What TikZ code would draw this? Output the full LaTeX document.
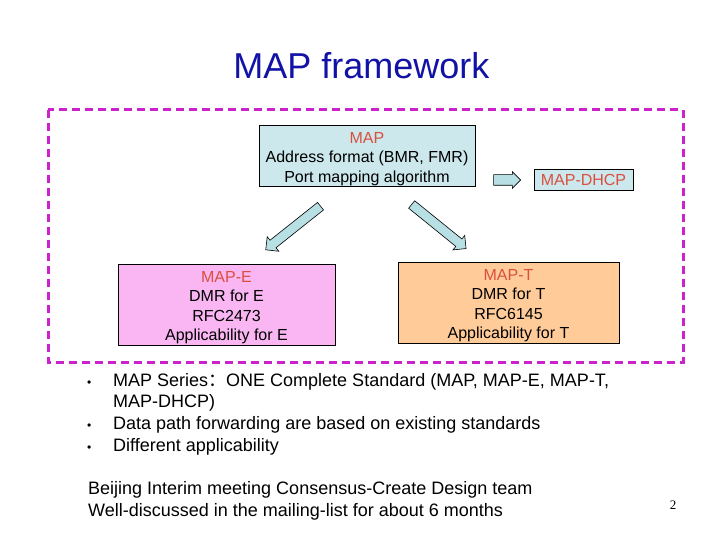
\documentclass[tikz,border=0pt]{standalone}
\usepackage{fontspec}
\setmainfont{Liberation Sans}
\newfontfamily\numfont{Liberation Serif}
\newfontfamily\cjk{Noto Sans CJK SC}
\usetikzlibrary{shapes.arrows, positioning}
\definecolor{titleblue}{HTML}{1212A6}
\definecolor{mapred}{HTML}{D9503F}
\definecolor{mapcyan}{HTML}{CCE8EC}
\definecolor{arrowcyan}{HTML}{B8DFE3}
\definecolor{mappink}{HTML}{F9B6F2}
\definecolor{maporange}{HTML}{FFCC99}
\definecolor{framemag}{HTML}{CC22CC}
\newcommand{\topstrut}{\rule{0pt}{17.5pt}}

\begin{document}
\begin{tikzpicture}[
    x=1pt, y=-1pt,
    every node/.style={inner sep=0pt, font=\fontsize{16}{19.5}\selectfont},
    box/.style={draw=black, line width=0.6pt, align=center},
    blockarrow/.style={single arrow, draw=black, line width=0.6pt, fill=arrowcyan, inner xsep=0pt},
    frame/.style={draw=framemag, line width=3pt, dash pattern=on 8pt off 5pt},
    bodytext/.style={anchor=base west, font=\fontsize{18}{21.7}\selectfont},
    bullet/.style={anchor=base west, font=\fontsize{12}{14}\selectfont}
]
\useasboundingbox (0,0) rectangle (720,540);

% Title
\node[text=titleblue, font=\fontsize{36}{40}\selectfont] (title) at (361.5,66) {MAP framework};

% Dashed frame
\draw[frame] (48,110) rectangle (683,362);

% Boxes
\node[box, fill=mapcyan, minimum width=216pt, minimum height=61pt] (map) at (367,155.5)
    {\topstrut\textcolor{mapred}{MAP}\\Address format (BMR, FMR)\\Port mapping algorithm};
\node[box, fill=mapcyan, minimum width=99pt, minimum height=21pt] (dhcp) at (583.5,179.5)
    {\textcolor{mapred}{MAP-DHCP}};
\node[box, fill=mappink, minimum width=217pt, minimum height=81pt] (mape) at (226.5,304.5)
    {\topstrut\textcolor{mapred}{MAP-E}\\DMR for E\\RFC2473\\Applicability for E};
\node[box, fill=maporange, minimum width=221pt, minimum height=81pt] (mapt) at (508.5,302.5)
    {\topstrut\textcolor{mapred}{MAP-T}\\DMR for T\\RFC6145\\Applicability for T};

% Block arrows
\node[blockarrow, minimum height=27pt, inner ysep=5pt, single arrow head extend=3pt] (toright) at (504.5,180) {};
\node[blockarrow, minimum height=70pt, inner ysep=4.5pt, single arrow head extend=4.5pt, rotate=218.5] (toe) at (295,226.5) {};
\node[blockarrow, minimum height=70pt, inner ysep=4.5pt, single arrow head extend=4.5pt, rotate=-39] (tot) at (437,225) {};

% Bullet list
\node[bullet] (b1) at (87,386) {\textbullet};
\node[bullet] (b2) at (87,429) {\textbullet};
\node[bullet] (b3) at (87,451) {\textbullet};
\node[bodytext] (item1) at (113,386) {MAP Series{\cjk ：}ONE Complete Standard (MAP, MAP-E, MAP-T,};
\node[bodytext] (item1b) at (113,407.5) {MAP-DHCP)};
\node[bodytext] (item2) at (113,429) {Data path forwarding are based on existing standards};
\node[bodytext] (item3) at (113,451) {Different applicability};

% Closing lines
\node[bodytext] (note1) at (88,494) {Beijing Interim meeting Consensus-Create Design team};
\node[bodytext] (note2) at (88,516) {Well-discussed in the mailing-list for about 6 months};

% Page number
\node[font=\numfont\fontsize{13}{15}\selectfont] (page) at (673,505) {2};
\end{tikzpicture}
\end{document}
